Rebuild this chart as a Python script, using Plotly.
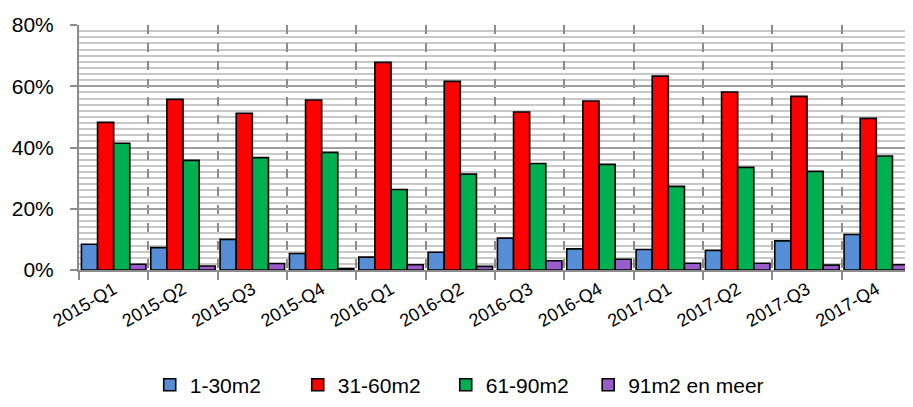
import plotly.graph_objects as go

quarters = ['2015-Q1', '2015-Q2', '2015-Q3', '2015-Q4',
            '2016-Q1', '2016-Q2', '2016-Q3', '2016-Q4',
            '2017-Q1', '2017-Q2', '2017-Q3', '2017-Q4']

size_1_30 = [8.4, 7.3, 10.0, 5.4, 4.2, 5.8, 10.4, 6.9, 6.7, 6.4, 9.5, 11.6]
size_31_60 = [48.2, 55.7, 51.2, 55.5, 67.8, 61.6, 51.6, 55.2, 63.3, 58.1, 56.7, 49.5]
size_61_90 = [41.4, 35.8, 36.7, 38.4, 26.3, 31.3, 34.8, 34.5, 27.3, 33.5, 32.2, 37.2]
size_91_plus = [1.9, 1.3, 2.1, 0.5, 1.7, 1.2, 3.0, 3.5, 2.2, 2.2, 1.6, 1.7]

series = [
    ('1-30m2', size_1_30, '#558ed5', 'legend'),
    ('31-60m2', size_31_60, '#ff0000', 'legend'),
    ('61-90m2', size_61_90, '#00b050', 'legend'),
    ('91m2 en meer', size_91_plus, '#9a5ccb', 'legend2'),
]

fig = go.Figure()
for name, vals, color, leg in series:
    fig.add_trace(go.Bar(
        x=quarters, y=[v / 100 for v in vals], name=name, legend=leg,
        marker=dict(color=color, line=dict(color='black', width=1.6)),
    ))

# page body has an 8px margin, so margins are trimmed to land the plot where the reference has it
font = 'Liberation Sans, Arial, sans-serif'
# last entry sits in its own legend so its long label is not clipped by the fixed entry width
legend_common = dict(orientation='h', xanchor='left', y=-0.47, yanchor='middle',
                     font=dict(size=21), itemwidth=30, tracegroupgap=0)
fig.update_layout(
    width=913, height=407,
    margin=dict(l=71, r=10, t=17, b=145),
    plot_bgcolor='white', paper_bgcolor='white',
    barmode='group', bargap=0.07, bargroupgap=0,
    font=dict(family=font, size=19, color='black'),
    showlegend=True,
    legend=dict(x=0.085, entrywidth=103, **legend_common),
    legend2=dict(x=0.612, **legend_common),
    xaxis=dict(
        type='category', tickson='boundaries', showgrid=True, griddash='dash',
        gridcolor='#8c8c8c', gridwidth=1.5, ticks='outside', ticklen=8,
        tickcolor='#8c8c8c', tickwidth=1.5, tickangle=-30,
        showline=True, linecolor='#8c8c8c', linewidth=2,
        tickfont=dict(size=18), automargin=False,
    ),
    yaxis=dict(
        range=[0, 0.8], dtick=0.2, tickformat='.0%', showgrid=True,
        gridcolor='#a0a0a0', gridwidth=2, ticks='outside', ticklen=7,
        tickcolor='#8c8c8c', tickwidth=1.5, ticklabelstandoff=12,
        showline=True, linecolor='#8c8c8c', linewidth=2,
        minor=dict(dtick=0.02, showgrid=True, gridcolor='#c8c8c8', gridwidth=2),
        tickfont=dict(size=21), zeroline=False, automargin=False,
    ),
)

fig.write_html('out.html')
